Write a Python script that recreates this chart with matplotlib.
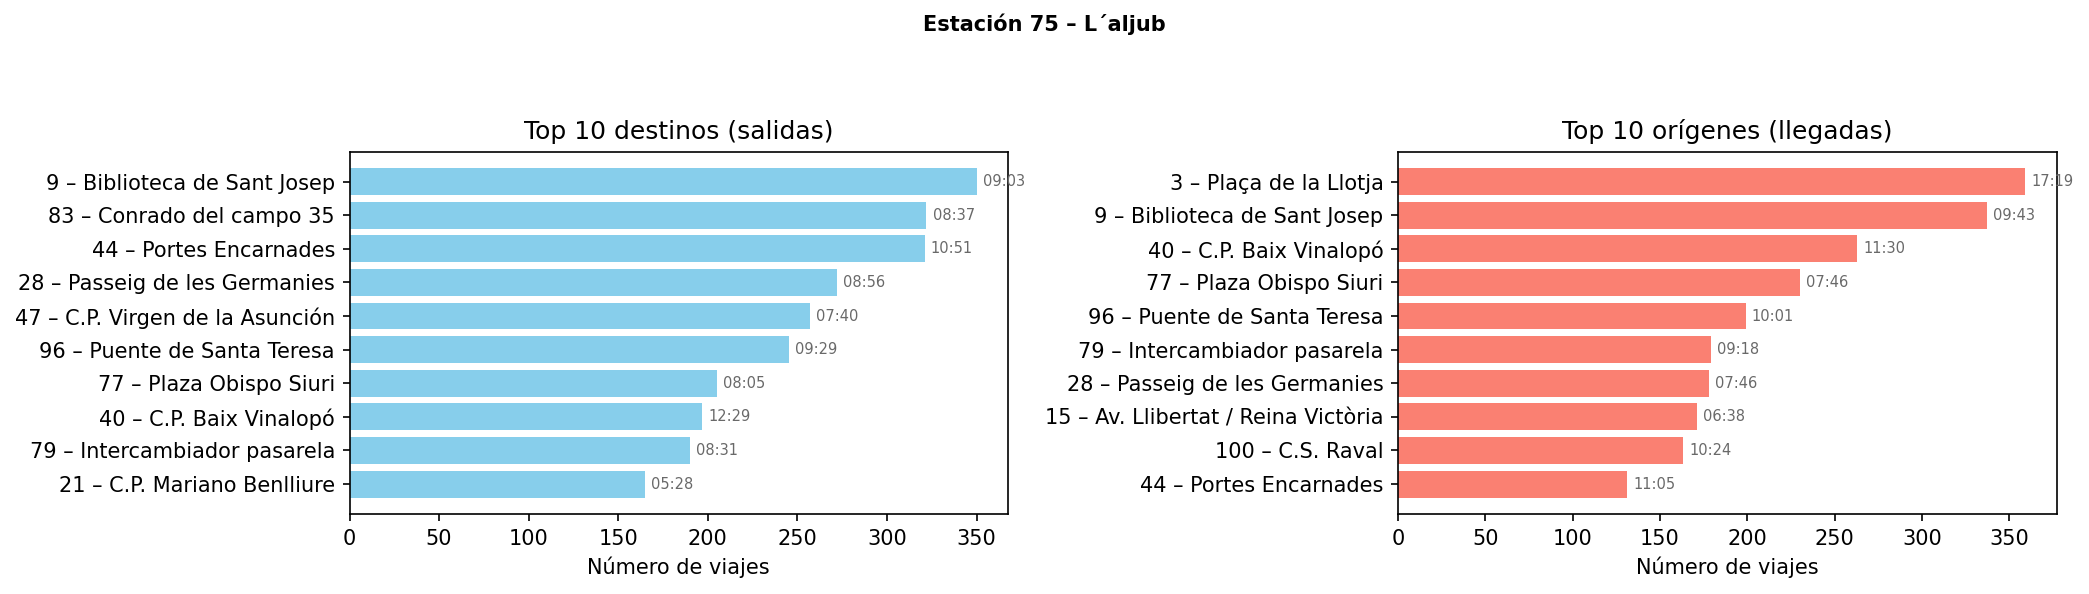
import matplotlib
matplotlib.use("Agg")
import matplotlib.pyplot as plt

station_title = "Estación 75 – L´aljub"

dest_names = [
    "9 – Biblioteca de Sant Josep",
    "83 – Conrado del campo 35",
    "44 – Portes Encarnades",
    "28 – Passeig de les Germanies",
    "47 – C.P. Virgen de la Asunción",
    "96 – Puente de Santa Teresa",
    "77 – Plaza Obispo Siuri",
    "40 – C.P. Baix Vinalopó",
    "79 – Intercambiador pasarela",
    "21 – C.P. Mariano Benlliure",
]
dest_trips = [350, 322, 321, 272, 257, 245, 205, 197, 190, 165]
dest_times = ["09:03", "08:37", "10:51", "08:56", "07:40",
              "09:29", "08:05", "12:29", "08:31", "05:28"]

orig_names = [
    "3 – Plaça de la Llotja",
    "9 – Biblioteca de Sant Josep",
    "40 – C.P. Baix Vinalopó",
    "77 – Plaza Obispo Siuri",
    "96 – Puente de Santa Teresa",
    "79 – Intercambiador pasarela",
    "28 – Passeig de les Germanies",
    "15 – Av. Llibertat / Reina Victòria",
    "100 – C.S. Raval",
    "44 – Portes Encarnades",
]
orig_trips = [359, 337, 263, 230, 199, 179, 178, 171, 163, 131]
orig_times = ["17:19", "09:43", "11:30", "07:46", "10:01",
              "09:18", "07:46", "06:38", "10:24", "11:05"]

W, H = 2089, 594
fig = plt.figure(figsize=(W / 150, H / 150), dpi=150)
ax1 = fig.add_axes([349.5 / W, 1 - 514 / H, 658.5 / W, 362.3 / H])
ax2 = fig.add_axes([1398 / W, 1 - 514 / H, 658.5 / W, 362.3 / H])


def draw_panel(ax, names, trips, times, color, title):
    bars = ax.barh(names, trips, color=color)
    ax.invert_yaxis()
    ax.bar_label(bars, labels=times, padding=3, fontsize=7, color="dimgray")
    ax.set_title(title, fontsize=12)
    ax.set_xlabel("Número de viajes")


draw_panel(ax1, dest_names, dest_trips, dest_times, "skyblue",
           "Top 10 destinos (salidas)")
draw_panel(ax2, orig_names, orig_trips, orig_times, "salmon",
           "Top 10 orígenes (llegadas)")

fig.suptitle(station_title, fontsize=10, fontweight="bold",
             y=1 - 24 / H, va="center")

fig.savefig("out.png", dpi=150)
